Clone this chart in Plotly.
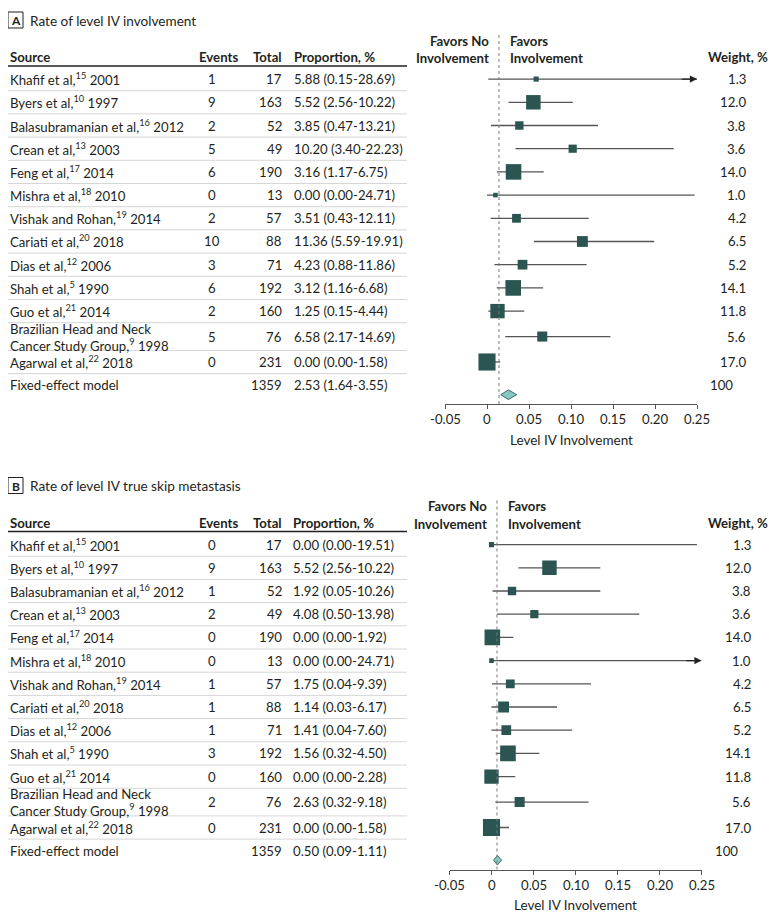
import math
import plotly.graph_objects as go

# page body has an 8px margin: the figure is sized and shifted to compensate
OFF = 8
W, H = 780 - OFF, 922 - OFF

# ---------------- data ----------------
sources = [
    "Khafif et al,<sup>15</sup> 2001",
    "Byers et al,<sup>10</sup> 1997",
    "Balasubramanian et al,<sup>16</sup> 2012",
    "Crean et al,<sup>13</sup> 2003",
    "Feng et al,<sup>17</sup> 2014",
    "Mishra et al,<sup>18</sup> 2010",
    "Vishak and Rohan,<sup>19</sup> 2014",
    "Cariati et al,<sup>20</sup> 2018",
    "Dias et al,<sup>12</sup> 2006",
    "Shah et al,<sup>5</sup> 1990",
    "Guo et al,<sup>21</sup> 2014",
    "Brazilian Head and Neck<br>Cancer Study Group,<sup>9</sup> 1998",
    "Agarwal et al,<sup>22</sup> 2018",
]
totals = [17, 163, 52, 49, 190, 13, 57, 88, 71, 192, 160, 76, 231]
weights = [1.3, 12.0, 3.8, 3.6, 14.0, 1.0, 4.2, 6.5, 5.2, 14.1, 11.8, 5.6, 17.0]
pooled_label = "Fixed-effect model"
pooled_total = 1359
pooled_weight = "100"

events_A = [1, 9, 2, 5, 6, 0, 2, 10, 3, 6, 2, 5, 0]
props_A = ["5.88 (0.15-28.69)", "5.52 (2.56-10.22)", "3.85 (0.47-13.21)",
           "10.20 (3.40-22.23)", "3.16 (1.17-6.75)", "0.00 (0.00-24.71)",
           "3.51 (0.43-12.11)", "11.36 (5.59-19.91)", "4.23 (0.88-11.86)",
           "3.12 (1.16-6.68)", "1.25 (0.15-4.44)", "6.58 (2.17-14.69)",
           "0.00 (0.00-1.58)"]
pooled_prop_A = "2.53 (1.64-3.55)"

events_B = [0, 9, 1, 2, 0, 0, 1, 1, 1, 3, 0, 2, 0]
props_B = ["0.00 (0.00-19.51)", "5.52 (2.56-10.22)", "1.92 (0.05-10.26)",
           "4.08 (0.50-13.98)", "0.00 (0.00-1.92)", "0.00 (0.00-24.71)",
           "1.75 (0.04-9.39)", "1.14 (0.03-6.17)", "1.41 (0.04-7.60)",
           "1.56 (0.32-4.50)", "0.00 (0.00-2.28)", "2.63 (0.32-9.18)",
           "0.00 (0.00-1.58)"]
pooled_prop_B = "0.50 (0.09-1.11)"

# forest marks as drawn in the picture
est_A = [0.0585, 0.0552, 0.0385, 0.1020, 0.0316, 0.0100, 0.0351, 0.1136, 0.0423, 0.0312, 0.0125, 0.0658, 0.0]
lo_A = [0.0015, 0.0256, 0.0047, 0.0340, 0.0117, 0.0, 0.0043, 0.0559, 0.0088, 0.0116, 0.0015, 0.0217, 0.0]
hi_A = [0.2869, 0.1022, 0.1321, 0.2223, 0.0675, 0.2471, 0.1211, 0.1991, 0.1186, 0.0668, 0.0444, 0.1469, 0.0158]
pooled_A = [0.0253, 0.0164, 0.0355]
ref_A = 0.0143

est_B = [0.0, 0.069, 0.0244, 0.051, 0.001, 0.0, 0.0224, 0.0144, 0.0176, 0.0196, 0.0, 0.0335, 0.0]
lo_B = [0.0, 0.032, 0.0013, 0.0065, 0.0, 0.0, 0.0006, 0.0, 0.0, 0.005, 0.0, 0.0045, 0.0]
hi_B = [0.2446, 0.1295, 0.1295, 0.176, 0.026, 0.26, 0.1185, 0.078, 0.096, 0.057, 0.0283, 0.1156, 0.0208]
pooled_B = [0.007, 0.0025, 0.012]
ref_B = 0.0065

x_min, x_max = -0.05, 0.25
tick_vals = [-0.05, 0, 0.05, 0.10, 0.15, 0.20, 0.25]
tick_text = ["-0.05", "0", "0.05", "0.10", "0.15", "0.20", "0.25"]
axis_title = "Level IV Involvement"

# ---------------- style ----------------
FONT = "Lato"
TXT = "#231f20"
SQ = "#2a5551"
DIA = "#86c8c2"
CI = "#555555"
FS = 13.2


def px_x(p):
    return (max(p, OFF) - OFF) / W


def px_y(p):
    return 1 - (max(p, OFF) - OFF) / H


fig = go.Figure()
ann = []
shapes = []


def text(x, y, s, anchor="left", size=FS, bold=False, color=TXT):
    if bold:
        s = "<b>" + s + "</b>"
    ann.append(dict(x=px_x(x), y=px_y(y), xref="paper", yref="paper", text=s,
                    showarrow=False, xanchor=anchor, yanchor="middle",
                    font=dict(family=FONT, size=size, color=color)))


def hline(x0, x1, y, color, width):
    shapes.append(dict(type="line", xref="paper", yref="paper",
                       x0=px_x(x0), x1=px_x(x1), y0=px_y(y), y1=px_y(y),
                       line=dict(color=color, width=width)))


panels = [
    dict(key="", letter="A", title="Rate of level IV involvement", dy=0.0, dx=0.0,
         ax_l=445.0, ax_r=697.0, prop_x=292,
         events=events_A, props=props_A, pprop=pooled_prop_A,
         est=est_A, lo=lo_A, hi=hi_A, pooled=pooled_A, ref=ref_A),
    dict(key="2", letter="B", title="Rate of level IV true skip metastasis", dy=465.5, dx=4.5,
         ax_l=449.5, ax_r=701.5, prop_x=291,
         events=events_B, props=props_B, pprop=pooled_prop_B,
         est=est_B, lo=lo_B, hi=hi_B, pooled=pooled_B, ref=ref_B),
]

layout_axes = {}

for P in panels:
    dy, dx, k = P["dy"], P["dx"], P["key"]
    # title with boxed letter
    shapes.append(dict(type="rect", xref="paper", yref="paper",
                       x0=px_x(8), x1=px_x(23), y0=px_y(28 + dy), y1=px_y(12 + dy),
                       line=dict(color=TXT, width=1), fillcolor="white"))
    text(15.5, 20.5 + dy, P["letter"], anchor="center", size=12, bold=True)
    text(28, 20.5 + dy, P["title"], size=13.6)

    # header
    hy = 57.5 + dy
    text(8, hy, "Source", bold=True)
    text(240, hy, "Events", anchor="right", bold=True)
    text(284, hy, "Total", anchor="right", bold=True)
    text(P["prop_x"], hy, "Proportion, %", bold=True)
    text(770, hy, "Weight, %", anchor="right", bold=True)
    hline(8, 407, 66 + dy, "#231f20", 1.5)

    # rows
    centers = []
    top = 67.5 + dy
    for s in sources:
        h = 27.7 if "<br>" in s else 23.2
        centers.append(top + h / 2)
        top += h
        hline(8, 407, top, "#d6d6d6", 1)
    pooled_c = top + 23.2 / 2

    for i, s in enumerate(sources):
        c = centers[i]
        parts = s.split("<br>")
        n = len(parts)
        for j, part in enumerate(parts):
            text(8, c + (j - (n - 1) / 2) * 16, part)
        text(212, c, str(P["events"][i]), anchor="center")
        text(284, c, str(totals[i]), anchor="right")
        text(P["prop_x"], c, P["props"][i])
        text(748 + dx, c, f"{weights[i]:.1f}", anchor="right")
    text(8, pooled_c, pooled_label)
    text(284, pooled_c, str(pooled_total), anchor="right")
    text(P["prop_x"], pooled_c, P["pprop"])
    text(735 + dx, pooled_c, pooled_weight, anchor="right")

    # forest axes
    axis_y = 404 + dy
    top_y = 20 + dy
    xa = "xaxis" + k
    ya = "yaxis" + k
    xr = "x" + k
    yr = "y" + k
    layout_axes[xa] = dict(domain=[px_x(P["ax_l"]), px_x(P["ax_r"])], range=[x_min, x_max],
                           anchor=yr, tickmode="array", tickvals=tick_vals, showticklabels=False,
                           showline=True, linecolor="#555", linewidth=1.2,
                           ticks="outside", ticklen=4, tickcolor="#555", tickwidth=1.2,
                           showgrid=False, zeroline=False, fixedrange=True)
    layout_axes[ya] = dict(domain=[px_y(axis_y), px_y(top_y)], range=[axis_y, top_y],
                           anchor=xr, visible=False, showgrid=False, zeroline=False, fixedrange=True)
    for tv, tt in zip(tick_vals, tick_text):
        ann.append(dict(x=tv, y=px_y(419 + dy), xref=xr, yref="paper", text=tt, showarrow=False,
                        xanchor="center", yanchor="middle",
                        font=dict(family=FONT, size=13.2, color=TXT)))

    # reference dotted line
    ref_px = P["ax_l"] + (P["ref"] - x_min) / (x_max - x_min) * (P["ax_r"] - P["ax_l"])
    shapes.append(dict(type="line", xref=xr, yref=yr, x0=P["ref"], x1=P["ref"],
                       y0=axis_y, y1=33 + dy, line=dict(color="#7a7a7a", width=1, dash="dot")))
    text(ref_px - 8, 40.5 + dy, "Favors No", anchor="right", bold=True)
    text(ref_px - 8, 58 + dy, "Involvement", anchor="right", bold=True)
    text(ref_px + 9, 40.5 + dy, "Favors", bold=True)
    text(ref_px + 9, 58 + dy, "Involvement", bold=True)

    # confidence interval lines
    lx, ly = [], []
    for i in range(len(sources)):
        lx += [max(P["lo"][i], x_min), min(P["hi"][i], x_max), None]
        ly += [centers[i], centers[i], None]
    fig.add_trace(go.Scatter(x=lx, y=ly, mode="lines", xaxis=xr, yaxis=yr,
                             line=dict(color=CI, width=1.3), hoverinfo="skip", showlegend=False))
    for i in range(len(sources)):
        if P["hi"][i] > x_max:
            ann.append(dict(x=x_max, y=centers[i], ax=x_max - 0.02, ay=centers[i],
                            xref=xr, yref=yr, axref=xr, ayref=yr, text="", showarrow=True,
                            arrowhead=2, arrowsize=1.1, arrowwidth=1.3, arrowcolor="#222",
                            standoff=0, startstandoff=0))
    # study squares
    fig.add_trace(go.Scatter(x=P["est"], y=centers, mode="markers", xaxis=xr, yaxis=yr,
                             marker=dict(symbol="square", color=SQ, opacity=1,
                                         size=[4.0 * math.sqrt(w) + 0.6 for w in weights],
                                         line=dict(color=SQ, width=0)),
                             hoverinfo="skip", showlegend=False))
    # pooled diamond
    pe, pl, ph = P["pooled"]
    dcy = pooled_c + 9.5
    fig.add_trace(go.Scatter(x=[pl, pe, ph, pe, pl], y=[dcy, dcy - 4.8, dcy, dcy + 4.8, dcy],
                             mode="lines", fill="toself", fillcolor=DIA, xaxis=xr, yaxis=yr,
                             line=dict(color="#3d6b66", width=1), hoverinfo="skip", showlegend=False))
    # axis title
    text((P["ax_l"] + P["ax_r"]) / 2, 439.5 + dy, axis_title, anchor="center", size=13.5)

fig.update_layout(
    width=W, height=H, margin=dict(l=0, r=0, t=0, b=0),
    paper_bgcolor="white", plot_bgcolor="rgba(0,0,0,0)",
    annotations=ann, shapes=shapes, showlegend=False,
    font=dict(family=FONT, color=TXT),
    **layout_axes,
)

fig.write_html("out.html")
